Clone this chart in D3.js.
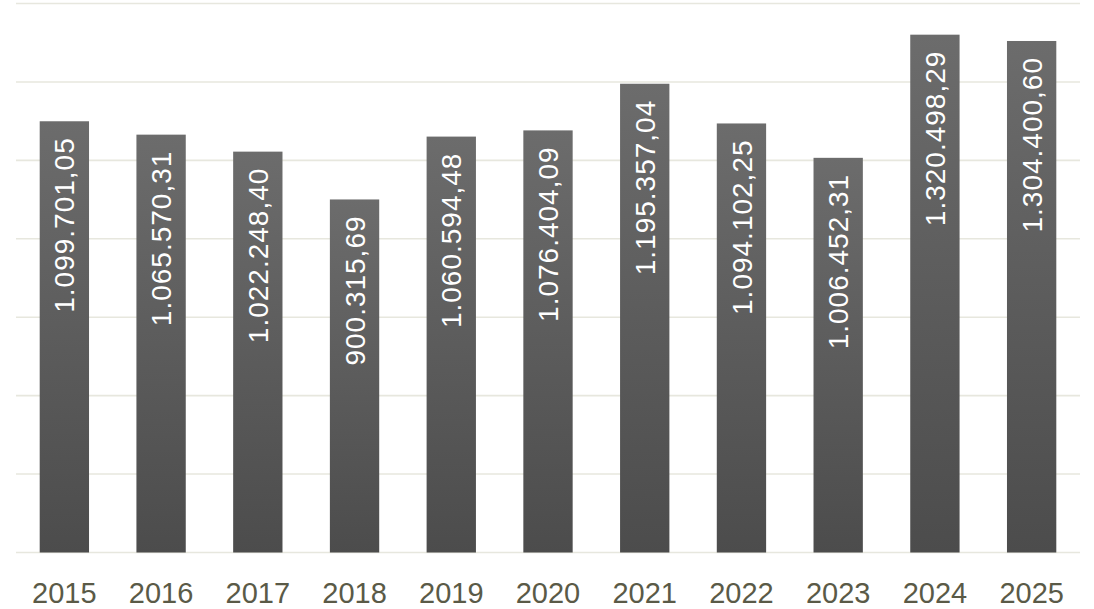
<!DOCTYPE html>
<html>
<head>
  <meta http-equiv="Content-Type" content="text/html;charset=utf-8" />
  <style type="text/css">
    body { margin: 0; background: #fff; }
    .grid line { stroke: #e7e7de; stroke-width: 1.6; }
    .val { fill: #fff; font-family: "Liberation Sans", Arial, sans-serif; font-size: 28px; letter-spacing: 1px; }
    .year { fill: #5a5a47; font-family: "Liberation Sans", Arial, sans-serif; font-size: 29px; }
  </style>
</head>
<body>
  <div id="chart"></div>
  <script src="https://d3js.org/d3.v7.min.js"></script>
  <script type="text/javascript">
    var years = ["2015", "2016", "2017", "2018", "2019", "2020", "2021", "2022", "2023", "2024", "2025"];
    var values = [1099701.05, 1065570.31, 1022248.40, 900315.69, 1060594.48, 1076404.09,
                  1195357.04, 1094102.25, 1006452.31, 1320498.29, 1304400.60];
    var gridTicks = [0, 200000, 400000, 600000, 800000, 1000000, 1200000, 1400000];

    var w = 1094, h = 609;
    var mLeft = 16, mRight = 1080, mTop = 3.5, mBottom = 552.5;

    var svg = d3.select("#chart").append("svg")
      .attr("width", w)
      .attr("height", h);

    var x = d3.scaleBand().domain(years).range([mLeft, mRight]).paddingInner(0.49).paddingOuter(0.245);
    var y = d3.scaleLinear().domain([0, 1400000]).range([mBottom, mTop]);

    // bar gradient: lighter at top, darker at the bottom
    var grad = svg.append("defs").append("linearGradient")
      .attr("id", "barGrad")
      .attr("x1", 0).attr("y1", 0).attr("x2", 0).attr("y2", 1);
    grad.append("stop").attr("offset", "0%").attr("stop-color", "#6c6c6c");
    grad.append("stop").attr("offset", "100%").attr("stop-color", "#4c4c4c");

    svg.append("g").attr("class", "grid")
      .selectAll("line").data(gridTicks).enter().append("line")
      .attr("x1", mLeft).attr("x2", mRight)
      .attr("y1", function (d) { return y(d); })
      .attr("y2", function (d) { return y(d); });

    var fmt = d3.formatLocale({ decimal: ",", thousands: ".", grouping: [3], currency: ["", ""] }).format(",.2f");

    var bars = svg.append("g").selectAll("g").data(values).enter().append("g");

    bars.append("rect")
      .attr("x", function (d, i) { return x(years[i]); })
      .attr("width", x.bandwidth())
      .attr("y", function (d) { return y(d); })
      .attr("height", function (d) { return y(0) - y(d); })
      .attr("fill", "url(#barGrad)");

    bars.append("text")
      .attr("class", "val")
      .attr("text-anchor", "end")
      .attr("dy", "0.36em")
      .attr("transform", function (d, i) {
        return "translate(" + (x(years[i]) + x.bandwidth() / 2) + "," + (y(d) + 16) + ") rotate(-90)";
      })
      .text(function (d) { return fmt(d); });

    svg.append("g").selectAll("text").data(years).enter().append("text")
      .attr("class", "year")
      .attr("text-anchor", "middle")
      .attr("x", function (d) { return x(d) + x.bandwidth() / 2; })
      .attr("y", 603)
      .text(function (d) { return d; });
  </script>
</body>
</html>
